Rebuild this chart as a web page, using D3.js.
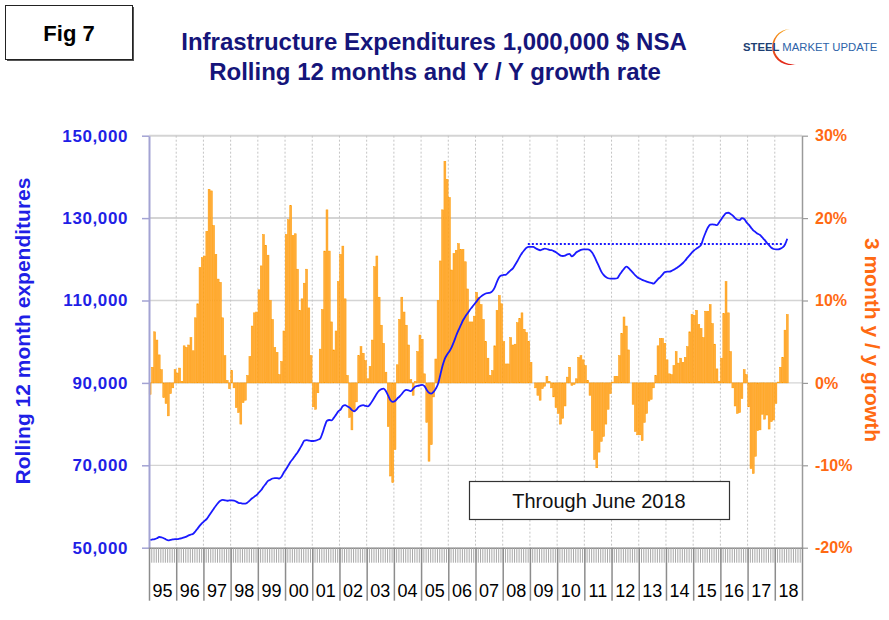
<!DOCTYPE html>
<html><head><meta charset="utf-8">
<script src="https://cdn.jsdelivr.net/npm/d3@7"></script>
<style>body{margin:0;background:#fff}svg{display:block;font-family:"Liberation Sans",Arial,Helvetica,sans-serif}</style>
</head><body><svg id="c" width="889" height="620"></svg>
<script>
// ---------------- data ----------------
const yearLabels = ["95","96","97","98","99","00","01","02","03","04","05","06","07","08","09","10","11","12","13","14","15","16","17","18"];

// 3 month y/y growth, % (monthly, Jan 1995 - Jun 2018)
const growthPct = [
  -1.4, 1.9, 6.2, 5.2, 3.4, 1.6, -1.8, -2.5, -4.0, -1.3, -0.6, 1.6,
  1.2, 1.8, 0.2, 4.5, 4.3, 4.6, 5.5, 3.9, 7.9, 9.6, 14.0, 15.2,
  15.4, 18.4, 23.5, 23.3, 19.1, 15.6, 12.6, 12.2, 7.9, 3.3, 0.3, -0.7,
  1.5, -0.6, -3.0, -3.6, -5.0, -2.4, -2.1, 0.9, 3.2, 6.9, 8.5, 8.6,
  11.3, 14.2, 18.0, 16.7, 15.5, 10.0, 7.7, 4.3, 3.7, 1.0, 2.6, 6.3,
  18.0, 19.8, 21.5, 17.9, 18.1, 13.8, 8.8, 10.2, 12.1, 13.8, 9.1, 3.3,
  -2.9, -3.2, -1.2, 4.1, 8.9, 16.0, 21.0, 16.0, 7.4, 4.0, 6.3, 12.3,
  15.6, 16.6, 10.2, 0.9, -4.2, -5.7, -3.5, -2.3, 3.3, 4.4, 3.6, 2.7,
  0.5, 2.0, 5.2, 14.1, 15.4, 10.4, 7.0, 4.8, 1.3, -5.3, -11.3, -12.1,
  -8.1, 2.2, 7.7, 10.4, 8.6, 7.0, 4.6, 0.4, -1.5, 0.2, 3.8, 5.8,
  5.3, 1.1, -4.8, -9.5, -7.5, -1.7, 2.9, 10.0, 14.8, 21.0, 26.9, 24.7,
  22.5, 13.7, 15.7, 16.1, 16.9, 16.2, 16.2, 14.7, 11.4, 7.4, 7.4, 8.1,
  11.0, 10.4, 9.5, 7.7, 5.0, 3.0, 0.9, 1.5, 4.5, 8.8, 10.6, 9.6,
  5.0, 2.3, 2.3, 5.5, 4.6, 4.7, 7.3, 7.8, 8.5, 6.5, 6.1, 5.0,
  2.5, 0.0, -0.6, -1.5, -2.1, -0.7, -0.4, 0.8, 0.2, -0.6, -1.7, -3.0,
  -3.7, -5.0, -4.3, -2.8, 0.7, 1.9, -0.3, -0.2, 0.5, 3.1, 3.3, 2.8,
  2.1, 0.3, -1.5, -5.8, -9.3, -10.3, -8.4, -7.1, -6.5, -5.0, -3.2, -1.3,
  0.1, 0.8, 0.8, 3.3, 6.0, 8.0, 6.9, 4.0, 0.0, -2.6, -5.9, -6.3,
  -6.3, -7.0, -4.8, -3.7, -2.2, -2.0, -0.6, 0.9, 4.5, 5.4, 5.4, 4.8,
  2.8, 1.1, 1.0, 2.1, 3.8, 2.4, 3.0, 2.5, 3.1, 4.4, 6.2, 8.3,
  8.2, 8.8, 7.1, 6.6, 5.5, 8.7, 8.7, 9.5, 7.2, 4.7, 1.7, 0.2,
  3.0, 8.4, 12.3, 8.5, 3.8, -0.6, -2.8, -3.7, -3.6, -1.9, 1.6, 1.0,
  -2.9, -10.4, -11.0, -8.9, -5.8, -5.7, -3.8, -4.4, -3.9, -5.6, -4.7, -4.5,
  -2.5, 0.1, 1.9, 3.1, 6.4, 8.3
];

// Rolling 12 month expenditures, $ millions
const rolling12 = [
  51900, 52000, 52100, 52300, 52600, 52500, 52300, 52000, 51800, 51900, 52000, 52100,
  52100, 52200, 52300, 52500, 52700, 53000, 53200, 53400, 54000, 54700, 55400, 56000,
  56500, 57000, 57800, 58600, 59400, 60200, 60900, 61400, 61600, 61500, 61400, 61500,
  61500, 61400, 61200, 60900, 60800, 60700, 60700, 61000, 61500, 62000, 62400, 62800,
  63400, 64000, 64800, 65500, 66200, 66500, 66800, 66900, 66900, 66800, 67300, 68300,
  69100, 70000, 70900, 71600, 72400, 73100, 74000, 75000, 76000, 76100, 76000, 75900,
  75900, 76000, 76200, 76500, 77800, 79500, 80800, 81000, 80900, 81500, 82300, 83100,
  83500, 84400, 84600, 84300, 84000, 83400, 83100, 83500, 84200, 84500, 84600, 84400,
  84300, 84800, 85600, 86500, 87400, 88100, 88500, 88600, 88000, 86900, 85800, 85400,
  85600, 86200, 86700, 87300, 88000, 88300, 88200, 88000, 88600, 89100, 89300, 89400,
  89500, 89200, 88300, 87600, 87400, 87800, 88600, 89800, 92000, 94200, 95900, 96900,
  97700, 98700, 100000, 101500, 102800, 104000, 105200, 106100, 106900, 107700, 108400, 109100,
  109800, 110500, 111000, 111400, 111700, 111800, 111900, 112300, 113200, 114600, 115700, 116100,
  116200, 116300, 116800, 117300, 117800, 118700, 119600, 120600, 121500, 122200, 122800, 123000,
  123000, 123000, 122700, 122400, 122200, 122400, 122600, 122500, 122300, 122200, 122000, 121700,
  121300, 120900, 120800, 120900, 121200, 121300, 120700, 121100, 121700, 122000, 122300, 122400,
  122400, 122400, 122200, 121600, 120600, 119400, 118200, 117000, 116200, 115700, 115400, 115300,
  115300, 115300, 115400, 116200, 117000, 117700, 118200, 117900, 117300, 116700, 116100, 115600,
  115300, 115000, 114800, 114600, 114400, 114300, 114100, 114600, 115200, 115700, 116300, 116900,
  117000, 117000, 117200, 117500, 117800, 118200, 118600, 119100, 119700, 120400, 121000, 121700,
  122200, 122600, 123000, 123500, 125100, 126500, 127700, 128400, 128500, 128400, 128300, 129000,
  129800, 130600, 131200, 131300, 131000, 130600, 130000, 129600, 129500, 130000, 129800, 129000,
  128400, 127700, 127000, 126600, 126200, 125900, 125300, 124700, 124000, 123400, 122800, 122500,
  122400, 122400, 122600, 122900, 123600, 125000
];

const leftTicks  = [50000, 70000, 90000, 110000, 130000, 150000];
const rightTicks = [-0.2, -0.1, 0, 0.1, 0.2, 0.3];
const peakLevel = 123700;          // dotted reference line
const peakRange = [167, 279];      // month indexes (Dec 2008 .. Apr 2018)

// ---------------- layout ----------------
const svg = d3.select("#c");
const X0 = 149, X1 = 802, YT = 135.7, YB = 547.7;
const nMonths = yearLabels.length * 12;

const xBand = d3.scaleBand().domain(d3.range(nMonths)).range([X0, X1]).paddingInner(0.16).paddingOuter(0.08);
const xMonth = d3.scaleLinear().domain([0, nMonths]).range([X0, X1]);
const xYear = d3.scaleLinear().domain([0, yearLabels.length]).range([X0, X1]);
const yL = d3.scaleLinear().domain([50000, 150000]).range([YB, YT]);
const yR = d3.scaleLinear().domain([-0.2, 0.3]).range([YB, YT]);

// gridlines
svg.append("g").selectAll("line").data(leftTicks.filter(v => v > 50000)).join("line")
  .attr("x1", X0).attr("x2", X1).attr("y1", d => yL(d)).attr("y2", d => yL(d))
  .attr("stroke", "#d4d4d4").attr("stroke-width", d => (d === 130000 || d === 150000) ? 2 : 1.3);
svg.append("g").selectAll("line").data(d3.range(1, yearLabels.length)).join("line")
  .attr("x1", d => xYear(d)).attr("x2", d => xYear(d)).attr("y1", YT).attr("y2", YB)
  .attr("stroke", "#c4c4c4").attr("stroke-width", 1).attr("stroke-dasharray", "2,2");

// bars
svg.append("g").selectAll("rect").data(growthPct).join("rect")
  .attr("x", (d, i) => xBand(i)).attr("width", xBand.bandwidth())
  .attr("y", d => yR(Math.max(0, d / 100)))
  .attr("height", d => Math.abs(yR(d / 100) - yR(0)))
  .attr("fill", "#ffad3d").attr("stroke", "#ff9a00").attr("stroke-width", 0.5);

// dotted peak line
svg.append("line")
  .attr("x1", xBand(peakRange[0])).attr("x2", xBand(peakRange[1]) + xBand.bandwidth())
  .attr("y1", yL(peakLevel)).attr("y2", yL(peakLevel))
  .attr("stroke", "#1a1aff").attr("stroke-width", 2).attr("stroke-dasharray", "2,2");

// rolling line
svg.append("path").datum(rolling12)
  .attr("d", d3.line().x((d, i) => xBand(i) + xBand.bandwidth() / 2).y(d => yL(d)).curve(d3.curveMonotoneX))
  .attr("fill", "none").attr("stroke", "#1a1aff").attr("stroke-width", 1.8);

// left axis
const gL = svg.append("g").attr("transform", `translate(${X0},0)`)
  .call(d3.axisLeft(yL).tickValues(leftTicks).tickFormat(d3.format(",")).tickSize(7).tickSizeOuter(0).tickPadding(14));
gL.select(".domain").attr("stroke", "#a3a3d3").attr("stroke-width", 2);
gL.selectAll(".tick line").attr("stroke", "#a3a3d3").attr("stroke-width", 1.5);
gL.selectAll(".tick text").attr("fill", "#1f1fe6").attr("font-size", 17).attr("font-weight", "bold")
  .attr("font-family", "Liberation Sans, Arial, sans-serif").attr("letter-spacing", 0.6);

// right axis
const pctFmt = v => Math.round(v * 100) + "%";
const gR = svg.append("g").attr("transform", `translate(${X1},0)`)
  .call(d3.axisRight(yR).tickValues(rightTicks).tickFormat(pctFmt).tickSize(6).tickSizeOuter(0).tickPadding(7));
gR.select(".domain").attr("stroke", "#9a9a9a").attr("stroke-width", 1.5);
gR.selectAll(".tick line").attr("stroke", "#9a9a9a").attr("stroke-width", 1.2);
gR.selectAll(".tick text").attr("fill", "#ff6a13").attr("font-size", 16).attr("font-weight", "bold")
  .attr("font-family", "Liberation Sans, Arial, sans-serif");

// bottom axis: monthly minor ticks + yearly major ticks
const gM = svg.append("g").attr("transform", `translate(0,${YB})`)
  .call(d3.axisBottom(xMonth).tickValues(d3.range(nMonths + 1)).tickSize(15).tickSizeOuter(0).tickFormat(""));
gM.select(".domain").attr("stroke", "#8a8a8a").attr("stroke-width", 1.5);
gM.selectAll(".tick line").attr("stroke", "#a8a8a8").attr("stroke-width", 1);
const gY = svg.append("g").attr("transform", `translate(0,${YB})`)
  .call(d3.axisBottom(xYear).tickValues(d3.range(yearLabels.length + 1)).tickSize(53).tickSizeOuter(0).tickFormat(""));
gY.select(".domain").remove();
gY.selectAll(".tick line").attr("stroke", "#8c8c8c").attr("stroke-width", 1.5);
svg.append("g").selectAll("text").data(yearLabels).join("text")
  .attr("x", (d, i) => xYear(i + 0.5)).attr("y", 597).attr("text-anchor", "middle")
  .attr("font-size", 18).attr("fill", "#000").text(d => d);

// axis titles
svg.append("text").attr("transform", "translate(30,331) rotate(-90)").attr("text-anchor", "middle")
  .attr("font-size", 21).attr("font-weight", "bold").attr("fill", "#1f1fe6").text("Rolling 12 month expenditures");
svg.append("text").attr("transform", "translate(865,340) rotate(90)").attr("text-anchor", "middle")
  .attr("font-size", 21).attr("font-weight", "bold").attr("fill", "#ff6a13").text("3 month y / y growth");

// titles
svg.append("text").attr("x", 434).attr("y", 50).attr("text-anchor", "middle").attr("font-size", 24)
  .attr("font-weight", "bold").attr("fill", "#15157a").text("Infrastructure Expenditures 1,000,000 $ NSA");
svg.append("text").attr("x", 435).attr("y", 80).attr("text-anchor", "middle").attr("font-size", 24)
  .attr("font-weight", "bold").attr("fill", "#15157a").text("Rolling 12 months and Y / Y growth rate");

// Fig 7 box
svg.append("rect").attr("x", 7).attr("y", 7).attr("width", 127).attr("height", 54).attr("fill", "#555");
svg.append("rect").attr("x", 5.5).attr("y", 5.5).attr("width", 127).attr("height", 54)
  .attr("fill", "#fff").attr("stroke", "#222").attr("stroke-width", 1);
svg.append("text").attr("x", 69).attr("y", 41).attr("text-anchor", "middle").attr("font-size", 22)
  .attr("font-weight", "bold").attr("fill", "#000").text("Fig 7");

// logo
const logo = svg.append("g");
const grad = svg.append("defs").append("linearGradient").attr("id", "sw").attr("x1", 0).attr("y1", 0).attr("x2", 0).attr("y2", 1);
grad.append("stop").attr("offset", "0%").attr("stop-color", "#f7a21b");
grad.append("stop").attr("offset", "100%").attr("stop-color", "#e2231a");
logo.append("path")
  .attr("d", "M790,29 A18,18 0 1,0 796,64 A14,13 0 1,1 790,29 Z")
  .attr("fill", "url(#sw)");
const lt = logo.append("text").attr("x", 743).attr("y", 51).attr("font-size", 11.3);
lt.append("tspan").attr("font-weight", "bold").attr("fill", "#1d3f73").text("STEEL ");
lt.append("tspan").attr("fill", "#2d63a8").text("MARKET UPDATE");

// "Through June 2018" box
svg.append("rect").attr("x", 469.5).attr("y", 481.5).attr("width", 260).attr("height", 38)
  .attr("fill", "#fff").attr("stroke", "#333").attr("stroke-width", 1.2);
svg.append("text").attr("x", 599).attr("y", 508).attr("text-anchor", "middle").attr("font-size", 20)
  .attr("fill", "#111").text("Through June 2018");
</script></body></html>
